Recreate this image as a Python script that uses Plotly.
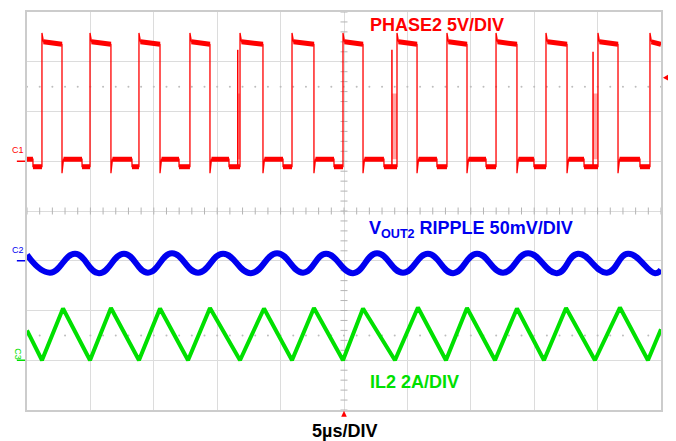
"""Scope capture: PHASE2 switch node, VOUT2 ripple and IL2 inductor current."""

import numpy as np
import plotly.graph_objects as go

# scope settings
TIME_PER_DIV_US = 5.0
H_DIVS = 10
V_DIVS = 8

CH1_VOLTS_PER_DIV = 5.0
CH1_OFFSET_DIV = 1.0
CH2_MV_PER_DIV = 50.0
CH2_OFFSET_DIV = -1.0
CH3_AMPS_PER_DIV = 2.0
CH3_OFFSET_DIV = -3.0

TRIGGER_TIME_US = 25.0
TRIGGER_LEVEL_V = 8.4

# CH1 PHASE2 -- edge times (us)
PHASE_RISE_US = [1.18, 4.97, 8.83, 12.85, 16.80, 20.90, 24.92, 29.18, 33.12, 36.99, 40.93, 45.03, 49.13]
PHASE_FALL_US = [2.76, 6.62, 10.49, 14.43, 18.61, 22.63, 26.50, 30.76, 34.70, 38.64, 42.59, 46.61]
PHASE_DIP_US = [0.47, 4.34, 8.28, 11.99, 15.93, 20.19, 24.21, 28.15, 32.33, 36.20, 39.98, 43.93, 48.34]
PHASE_GLITCH_US = [16.62, 28.78, 44.64]
PHASE_GLITCH_PEAK_V = [11.2, 11.2, 11.0]
PHASE_JITTER_TOP_V = 6.8
PHASE_SETTLE_US = 0.12

# CH1 PHASE2 -- levels (V)
PHASE_HIGH_START_V = 12.0
PHASE_HIGH_END_V = 11.75
PHASE_OVERSHOOT_V = 12.9
PHASE_LOW_V = 0.2
PHASE_DIP_V = -0.55
PHASE_UNDERSHOOT_V = -1.2

# CH2 VOUT2 ripple -- turning points (us, mV)
RIPPLE_T_US = [0.0, 1.81, 3.79, 5.68, 7.65, 9.54, 11.43, 13.49, 15.46, 17.66, 19.72, 21.77, 23.58,
               25.71, 27.60, 29.65, 31.62, 33.60, 35.49, 37.54, 39.51, 41.80, 43.45, 45.74, 47.40,
               49.53, 50.0]
RIPPLE_MV = [6.0, -12.0, 7.0, -12.5, 7.0, -12.0, 7.5, -12.0, 7.0, -12.5, 7.5, -12.0, 7.0,
             -12.5, 7.5, -12.0, 7.0, -12.5, 7.0, -12.0, 7.5, -12.5, 7.0, -12.0, 7.0,
             -12.5, -9.0]

# CH3 IL2 -- triangle corners (us, A)
IL_T_US = [0.0, 1.18, 2.84, 4.97, 6.62, 8.83, 10.49, 12.70, 14.43, 16.80, 18.69, 20.90, 22.63,
           24.92, 26.50, 29.02, 30.83, 33.04, 34.70, 36.91, 38.64, 40.77, 42.51, 44.79, 46.76,
           48.97, 50.0]
IL_A = [1.20, 0.0, 2.08, 0.0, 2.10, 0.0, 2.08, 0.0, 2.10, 0.0, 2.08, 0.0, 2.10,
        0.0, 2.08, 0.0, 2.12, 0.0, 2.10, 0.0, 2.08, 0.0, 2.10, 0.0, 2.12,
        0.0, 1.25]

RED = "#ff0000"
BLUE = "#0000f0"
GREEN = "#00e000"
GRID = "#dcdcdc"
FONT = "Arial, Liberation Sans, sans-serif"


def ch1(v):
    return CH1_OFFSET_DIV + np.asarray(v, dtype=float) / CH1_VOLTS_PER_DIV


def phase_paths():
    """Build the thin edge path and the thick (noisy) plateau segments."""
    t, v = [0.0], [PHASE_LOW_V]
    pt, pv = [], []
    low_start = 0.0
    for i, tr in enumerate(PHASE_RISE_US):
        td = PHASE_DIP_US[i]
        t += [td, td, tr, tr, tr + PHASE_SETTLE_US]
        v += [PHASE_LOW_V, PHASE_DIP_V, PHASE_DIP_V, PHASE_OVERSHOOT_V, PHASE_HIGH_START_V]
        pt += [low_start, td, None, td, tr, None]
        pv += [PHASE_LOW_V, PHASE_LOW_V, None, PHASE_DIP_V, PHASE_DIP_V, None]
        if i < len(PHASE_FALL_US):
            tf = PHASE_FALL_US[i]
            t += [tf, tf, tf + PHASE_SETTLE_US]
            v += [PHASE_HIGH_END_V, PHASE_UNDERSHOOT_V, PHASE_LOW_V]
            pt += [tr + PHASE_SETTLE_US, tf, None]
            pv += [PHASE_HIGH_START_V, PHASE_HIGH_END_V, None]
            low_start = tf + PHASE_SETTLE_US
        else:
            end = H_DIVS * TIME_PER_DIV_US
            t += [end]
            v += [PHASE_HIGH_END_V]
            pt += [tr + PHASE_SETTLE_US, end, None]
            pv += [PHASE_HIGH_START_V, PHASE_HIGH_END_V, None]
    return t, v, pt, pv


def glitch_paths():
    gt, gv, jt, jv = [], [], [], []
    for g, peak in zip(PHASE_GLITCH_US, PHASE_GLITCH_PEAK_V):
        gt += [g, g, None]
        gv += [PHASE_DIP_V, peak, None]
        nxt = min(r for r in PHASE_RISE_US if r > g)
        jt += [g, nxt, nxt, g, g, None]
        jv += [PHASE_LOW_V, PHASE_LOW_V, PHASE_JITTER_TOP_V, PHASE_JITTER_TOP_V, PHASE_LOW_V, None]
    return gt, gv, jt, jv


def none_div(vals):
    return [None if x is None else float(ch1(x)) for x in vals]


fig = go.Figure()

# graticule decorations: minor ticks on the centre lines and the dotted rows
x_end = H_DIVS * TIME_PER_DIV_US
minor_x = np.arange(0, x_end + 0.01, TIME_PER_DIV_US / 5)
minor_y = np.arange(-V_DIVS / 2, V_DIVS / 2 + 0.01, 0.2)
fig.add_trace(go.Scatter(x=minor_x, y=np.zeros_like(minor_x), mode="markers",
                         marker=dict(symbol="line-ns", size=5, line=dict(width=1, color="#b4b4b4"))))
fig.add_trace(go.Scatter(x=np.full_like(minor_y, TRIGGER_TIME_US), y=minor_y, mode="markers",
                         marker=dict(symbol="line-ew", size=5, line=dict(width=1, color="#b4b4b4"))))
for row in (2.5, -2.5):
    fig.add_trace(go.Scatter(x=minor_x, y=np.full_like(minor_x, row), mode="markers",
                             marker=dict(symbol="circle", size=2, color="#bdbdbd")))

# CH1 PHASE2
t, v, pt, pv = phase_paths()
gt, gv, jt, jv = glitch_paths()
fig.add_trace(go.Scatter(x=jt, y=none_div(jv), mode="lines", fill="toself",
                         fillcolor="rgba(255,0,0,0.35)", line=dict(width=0)))
fig.add_trace(go.Scatter(x=gt, y=none_div(gv), mode="lines", line=dict(color=RED, width=1.5)))
fig.add_trace(go.Scatter(x=t, y=ch1(v), mode="lines", line=dict(color=RED, width=1.3)))
fig.add_trace(go.Scatter(x=pt, y=none_div(pv), mode="lines", line=dict(color=RED, width=5)))

# CH2 VOUT2 ripple
fig.add_trace(go.Scatter(x=RIPPLE_T_US,
                         y=CH2_OFFSET_DIV + np.array(RIPPLE_MV) / CH2_MV_PER_DIV,
                         mode="lines", line=dict(color=BLUE, width=6, shape="spline", smoothing=1.3)))

# CH3 IL2
fig.add_trace(go.Scatter(x=IL_T_US,
                         y=CH3_OFFSET_DIV + np.array(IL_A) / CH3_AMPS_PER_DIV,
                         mode="lines", line=dict(color=GREEN, width=4)))

# trigger position (bottom) and trigger level (right edge) markers
trig_y = float(ch1(TRIGGER_LEVEL_V))
fig.add_shape(type="path", xref="x", yref="paper", fillcolor=RED, line=dict(width=0),
              path=f"M {TRIGGER_TIME_US - 0.22},-0.017 L {TRIGGER_TIME_US + 0.22},-0.017 "
                   f"L {TRIGGER_TIME_US},-0.002 Z")
fig.add_shape(type="path", xref="paper", yref="y", fillcolor=RED, line=dict(width=0),
              path=f"M 1.003,{trig_y} L 1.012,{trig_y + 0.065} L 1.012,{trig_y - 0.065} Z")

# channel ground markers on the left edge
for lvl, name, col, ang in ((CH1_OFFSET_DIV, "C1", RED, 0), (CH2_OFFSET_DIV, "C2", BLUE, 0),
                            (CH3_OFFSET_DIV, "C3", GREEN, 90)):
    fig.add_shape(type="line", xref="paper", yref="y", x0=-0.016, x1=-0.003, y0=lvl, y1=lvl,
                  line=dict(color=col, width=1.5))
    fig.add_annotation(xref="paper", yref="y", x=-0.014, y=lvl + (0.08 if ang == 0 else 0.12),
                       text=name, showarrow=False, textangle=ang,
                       xanchor="center", yanchor="bottom" if ang == 0 else "middle",
                       font=dict(family=FONT, size=9, color=col))

labels = [
    ("<b>PHASE2 5V/DIV</b>", 26.9, 3.73, RED, "left"),
    ("<b>V<sub>OUT2</sub> RIPPLE 50mV/DIV</b>", 26.8, -0.38, BLUE, "left"),
    ("<b>IL2 2A/DIV</b>", 26.9, -3.44, GREEN, "left"),
]
for text, x, y, col, anchor in labels:
    fig.add_annotation(x=x, y=y, text=text, showarrow=False, xanchor=anchor, yanchor="middle",
                       font=dict(family=FONT, size=18, color=col))

fig.add_annotation(x=TRIGGER_TIME_US, xref="x", y=-0.052, yref="paper", text="<b>5µs/DIV</b>",
                   showarrow=False, xanchor="center", yanchor="middle",
                   font=dict(family=FONT, size=18, color="#000000"))

# the page body adds an 8px offset, so the margins are shifted to keep the
# graticule where the capture has it
fig.update_layout(
    width=676, height=441,
    margin=dict(l=19, r=23, t=2, b=39),
    plot_bgcolor="white", paper_bgcolor="white",
    showlegend=False,
)
fig.update_xaxes(range=[0, x_end], dtick=TIME_PER_DIV_US, tick0=0, showgrid=True, gridcolor=GRID,
                 gridwidth=1, zeroline=False, showticklabels=False, ticks="",
                 showline=True, linecolor="#cccccc", linewidth=2, mirror=True)
fig.update_yaxes(range=[-V_DIVS / 2, V_DIVS / 2], dtick=1, tick0=0, showgrid=True, gridcolor=GRID,
                 gridwidth=1, zeroline=False, showticklabels=False, ticks="",
                 showline=True, linecolor="#cccccc", linewidth=2, mirror=True)

fig.write_html("out.html")
